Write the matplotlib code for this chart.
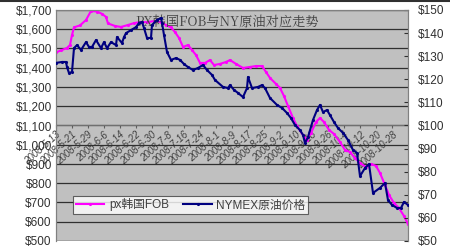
import matplotlib.pyplot as plt
from matplotlib.lines import Line2D
from matplotlib.ticker import FuncFormatter

plt.rcParams['font.family'] = ['Liberation Sans', 'Noto Sans CJK SC', 'DejaVu Sans']

# px韩国FOB (左轴, 美元/吨) — 横轴为自 2008-5-13 起的天数
px_day = [0, 2.5, 5.5, 7, 8, 9, 12, 15, 17.5, 20.5, 23, 25, 26, 29.5, 32.5, 36, 39, 42,
          45.5, 49.5, 52.5, 55, 57.5, 59.5, 61.5, 63.5, 66, 68, 70, 72, 74.5, 77, 79,
          82, 85, 87, 90, 93.5, 97, 100, 103, 105, 107, 110, 112, 114, 116, 118.5,
          120.5, 123.5, 125.5, 127.5, 130, 132, 134, 136.5, 139, 142, 144.5, 147,
          149.5, 152, 155, 157.5, 160, 162, 164.5, 166.5, 169, 171.5, 174, 176]
px_val = [1480, 1490, 1503, 1518, 1570, 1610, 1620, 1648, 1695, 1692, 1680, 1664, 1630,
          1617, 1612, 1622, 1632, 1637, 1637, 1643, 1637, 1622, 1610, 1585, 1555, 1508,
          1518, 1492, 1466, 1425, 1425, 1440, 1414, 1420, 1430, 1440, 1420, 1399, 1404,
          1409, 1409, 1378, 1347, 1316, 1295, 1253, 1201, 1139, 1097, 1050, 1025, 1061,
          1118, 1139, 1118, 1077, 1056, 1014, 973, 962, 931, 905, 884, 900, 890, 853,
          791, 739, 697, 671, 630, 588]

# NYMEX原油价格 (右轴, 美元/桶)
oil_day = [0, 3, 5, 5.5, 6.5, 8, 9, 10.5, 12.5, 15, 16.5, 18, 20, 22.5, 24, 25.5, 27.5,
           30, 30.5, 33, 34, 35, 37.5, 40, 41.5, 43, 44, 45.5, 47.5, 48, 50.5, 52.5, 53,
           54, 55.5, 57.5, 60, 62, 64, 66, 68.5, 71, 73.5, 75.5, 78, 79.5, 83.5, 86, 87,
           89, 91, 93.5, 95.5, 96, 98, 101, 103, 104.5, 107, 110.5, 113, 115.5, 117.5,
           119.5, 122, 123.5, 124.5, 126, 128.5, 130.5, 132, 133.5, 135.5, 137, 139, 141,
           143.5, 146, 148.5, 150.5, 152, 154.5, 156.5, 158.5, 162, 164.5, 166, 168,
           170.5, 172.5, 174, 176]
oil_val = [127.1, 127.5, 127.5, 125.3, 122.7, 123.2, 133.5, 134.8, 132.7, 136.1, 134,
           134, 137, 133.5, 136.1, 133.5, 136.1, 134.8, 138.3, 135.7, 138.3, 140, 141.3,
           142.6, 144.4, 144.8, 142.2, 137.9, 137.9, 143.5, 145.7, 146.5, 144.4, 139.2,
           131.8, 128.4, 129.2, 128.4, 126.6, 125.3, 124, 124.9, 126.2, 124, 121.9,
           119.7, 116.7, 116.2, 117.5, 115.4, 114.1, 112.3, 116.2, 121, 116.2, 116.7,
           117.5, 116.2, 111.9, 108.9, 107.6, 105.4, 103.2, 100.2, 98, 95.9, 92.4, 95,
           102.4, 106.7, 108.9, 105.8, 106.7, 104.5, 101.5, 98.9, 96.8, 93.7, 89.4, 88.1,
           78.1, 81.6, 83.3, 70.8, 73, 75.1, 67.7, 65.6, 64.3, 64.3, 66.9, 65.6]

tick_days = [0, 8, 16, 24, 32, 40, 48, 56, 64, 72, 80, 88, 96, 104, 112, 120, 128, 136,
             144, 152, 160, 168]
tick_labels = ['2008-5-13', '2008-5-21', '2008-5-29', '2008-6-6', '2008-6-14',
               '2008-6-22', '2008-6-30', '2008-7-8', '2008-7-16', '2008-7-24',
               '2008-8-1', '2008-8-9', '2008-8-17', '2008-8-25', '2008-9-2',
               '2008-9-10', '2008-9-18', '2008-9-26', '2008-10-4', '2008-10-12',
               '2008-10-20', '2008-10-28']

fig = plt.figure(figsize=(4.5, 2.5), dpi=100)
fig.patch.set_facecolor('white')
ax = fig.add_axes([56 / 450, 9 / 250, 352 / 450, 231 / 250])
ax2 = ax.twinx()
ax.set_facecolor('#c0c0c0')

ax.plot(px_day, px_val, color='#ff00ff', lw=1.5, marker='.', ms=2.5, label='px韩国FOB', zorder=3)
ax2.plot(oil_day, oil_val, color='#000080', lw=1.5, marker='.', ms=2.5, label='NYMEX原油价格', zorder=3)

ax.set_xlim(0, 176)
ax.set_ylim(500, 1700)
ax2.set_ylim(50, 150)
ax.set_yticks(range(500, 1701, 100))
ax2.set_yticks(range(50, 151, 10))
ax.yaxis.set_major_formatter(FuncFormatter(lambda v, p: '${:,.0f}'.format(v)))
ax2.yaxis.set_major_formatter(FuncFormatter(lambda v, p: '${:.0f}'.format(v)))
ax.grid(axis='y', color='#303030', lw=0.9)
ax.set_axisbelow(True)

# category axis crosses at $1,100
ax.spines['bottom'].set_position(('data', 1100))
ax.spines['bottom'].set_color('#707070')
for s in ['left', 'right', 'top']:
    ax.spines[s].set_color('#808080')
    ax2.spines[s].set_color('#808080')
ax2.spines['bottom'].set_visible(False)
ax.set_xticks(tick_days)
ax.set_xticklabels(tick_labels, rotation=42, ha='right', va='top', rotation_mode='anchor',
                   fontsize=7, color='#404040', style='italic')
ax.tick_params(axis='x', length=2, color='#606060', pad=1)
ax.tick_params(axis='y', length=0, labelsize=8.5, colors='#303030', pad=3)
ax2.tick_params(axis='y', length=3, direction='in', labelsize=8.5, colors='#303030', pad=7)
ax.axhline(500, color='#808080', lw=1)

ax.text(0.485, 0.975, 'PX韩国FOB与NY原油对应走势', transform=ax.transAxes, ha='center', va='top',
        fontsize=9.5, color='#404040', family=['Noto Serif CJK SC', 'Liberation Serif', 'Noto Sans CJK SC'])

h1, l1 = ax.get_legend_handles_labels()
h2, l2 = ax2.get_legend_handles_labels()
leg = ax2.legend(h1 + h2, l1 + l2, ncol=2, loc='center', bbox_to_anchor=(0.383, 0.156),
                 fontsize=8.5, frameon=True, fancybox=False, handlelength=2.4,
                 borderpad=0.25, columnspacing=1.2, handletextpad=0.4)
leg.get_frame().set_edgecolor('#404040')
leg.get_frame().set_linewidth(0.8)
for t in leg.get_texts():
    t.set_color('#404040')

fig.add_artist(Line2D([0, 1], [0.996, 0.996], color='#303030', lw=1.5))

fig.savefig('out.png', dpi=100)
